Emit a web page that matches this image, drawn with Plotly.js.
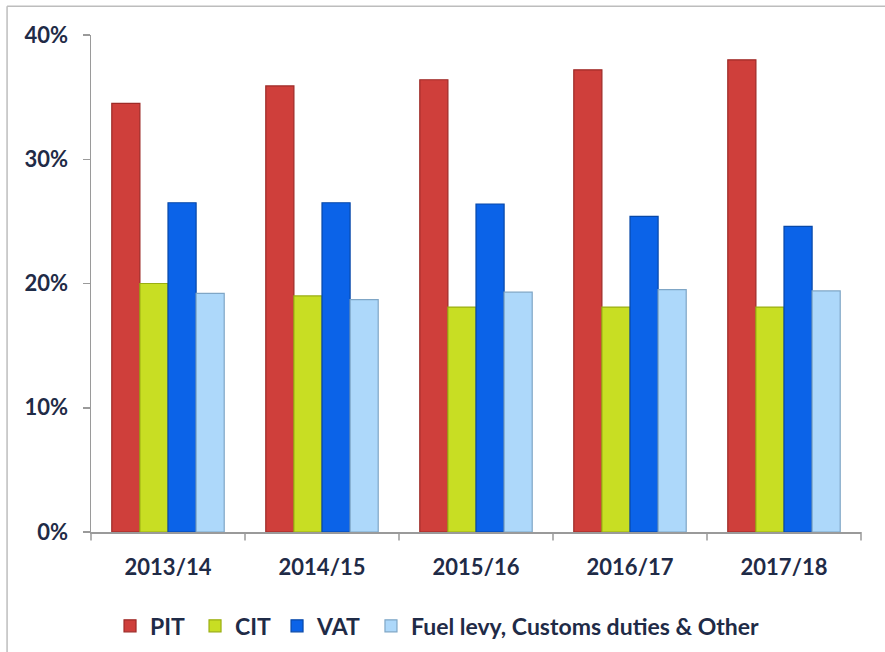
<!DOCTYPE html>
<html>
<head>
<meta charset="utf-8">
<script src="https://cdn.plot.ly/plotly-3.0.1.min.js"></script>
<style>
  html, body { margin: 0; padding: 0; background: #ffffff; }
  #chart { width: 885px; height: 652px; }
</style>
</head>
<body>
<div id="chart"></div>
<script>
const categories = ["2013/14", "2014/15", "2015/16", "2016/17", "2017/18"];
const seriesNames = ["PIT", "CIT", "VAT", "Fuel levy, Customs duties & Other"];
const pitValues  = [0.345, 0.359, 0.364, 0.372, 0.380];
const citValues  = [0.200, 0.190, 0.181, 0.181, 0.181];
const vatValues  = [0.265, 0.265, 0.264, 0.254, 0.246];
const fuelValues = [0.192, 0.187, 0.193, 0.195, 0.194];
const yTickValues = [0, 0.1, 0.2, 0.3, 0.4];
const yTickLabels = ["0%", "10%", "20%", "30%", "40%"];

const fillColors = ["#CF3F3B", "#C8DE23", "#0B63E8", "#ADD8FA"];
const edgeColors = ["#9E2A27", "#9AAE12", "#0848A8", "#7FA6C6"];
const allValues = [pitValues, citValues, vatValues, fuelValues];

const textColor = "#1F2B47";
const fontFamily = "Lato, 'Open Sans', sans-serif";
const legendIds = ["legend", "legend2", "legend3", "legend4"];
const legendX = [0.0247, 0.1351, 0.2416, 0.3636];

const traces = allValues.map((vals, i) => ({
  type: "bar",
  name: seriesNames[i],
  x: categories,
  y: vals,
  legend: legendIds[i],
  marker: { color: fillColors[i], line: { color: edgeColors[i], width: 1.2 } },
  hoverinfo: "x+y+name"
}));

function legendBox(xPos) {
  return {
    orientation: "h",
    x: xPos,
    xanchor: "left",
    xref: "paper",
    y: 0.04,
    yanchor: "middle",
    yref: "container",
    bgcolor: "rgba(0,0,0,0)",
    font: { family: fontFamily, size: 23, color: textColor, weight: 700 },
    itemwidth: 30
  };
}

const layout = {
  width: 885,
  height: 652,
  margin: { l: 91, r: 24, t: 35, b: 120 },
  paper_bgcolor: "#ffffff",
  plot_bgcolor: "#ffffff",
  barmode: "group",
  bargap: 0.27,
  bargroupgap: 0,
  showlegend: true,
  font: { family: fontFamily, size: 22, color: textColor, weight: 700 },
  xaxis: {
    type: "category",
    automargin: false,
    showline: true,
    linecolor: "#9A9A9A",
    linewidth: 1.5,
    ticks: "",
    showgrid: false,
    tickfont: { family: fontFamily, size: 22, color: textColor, weight: 700 },
    ticklabelstandoff: 15
  },
  yaxis: {
    range: [0, 0.4],
    automargin: false,
    tickvals: yTickValues,
    ticktext: yTickLabels,
    showline: true,
    linecolor: "#9A9A9A",
    linewidth: 1.5,
    ticks: "outside",
    ticklen: 7,
    tickcolor: "#9A9A9A",
    tickwidth: 1.5,
    showgrid: false,
    zeroline: false,
    tickfont: { family: fontFamily, size: 22, color: textColor, weight: 700 },
    ticklabelstandoff: 10
  },
  legend: legendBox(legendX[0]),
  legend2: legendBox(legendX[1]),
  legend3: legendBox(legendX[2]),
  legend4: legendBox(legendX[3]),
  shapes: [
    ...[0, 1, 2, 3, 4, 5].map(k => ({
      type: "line", xref: "paper", yref: "paper",
      x0: k / 5, x1: k / 5, y0: 0, y1: -0.017,
      line: { color: "#9A9A9A", width: 1.5 }
    })),
    { type: "line", xref: "paper", yref: "paper",
      x0: -0.109, x1: -0.109, y0: 1.058, y1: -0.26,
      line: { color: "#BDBDBD", width: 1.5 } },
    { type: "line", xref: "paper", yref: "paper",
      x0: -0.109, x1: 1.05, y0: 1.058, y1: 1.058,
      line: { color: "#BDBDBD", width: 1.5 } }
  ]
};

Plotly.newPlot("chart", traces, layout, { displayModeBar: false, staticPlot: true });
</script>
</body>
</html>
